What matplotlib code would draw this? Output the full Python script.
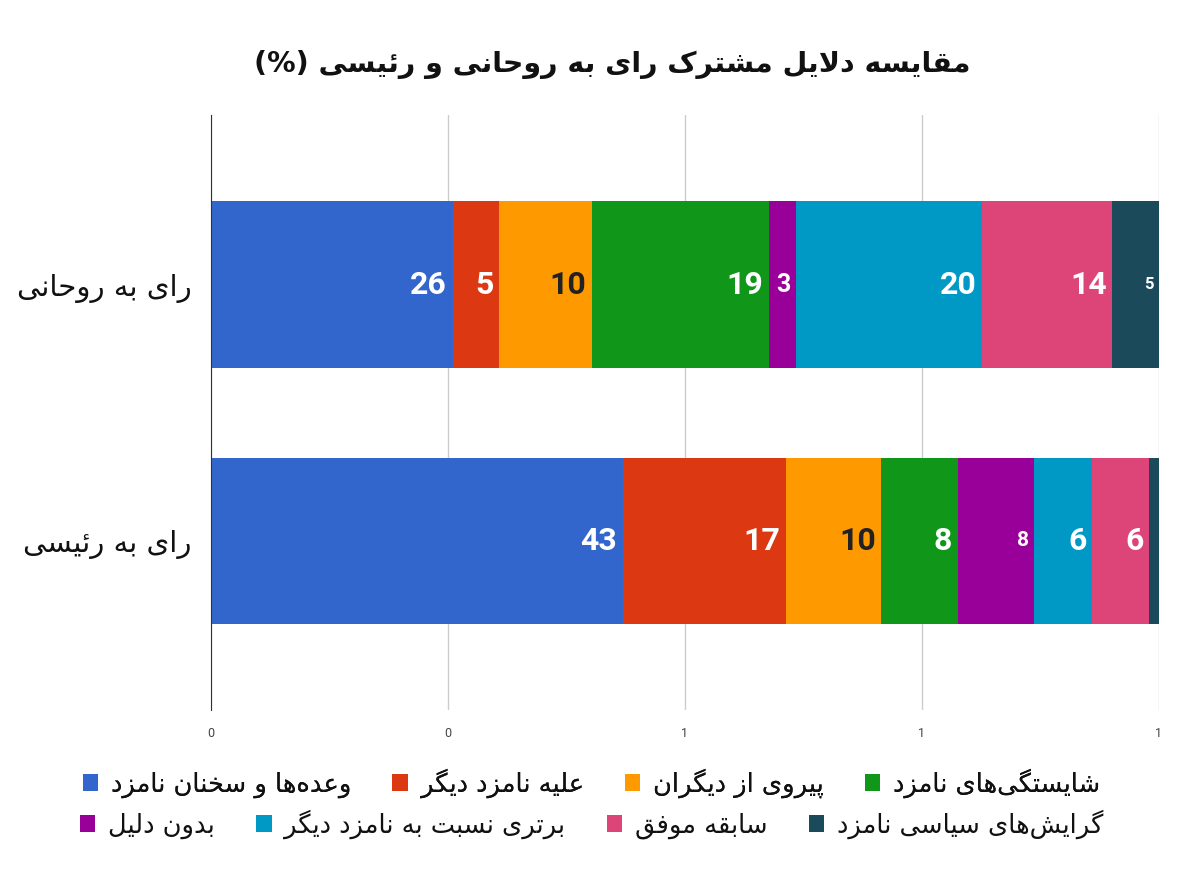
import numpy as np
import matplotlib
matplotlib.use("Agg")
import matplotlib.pyplot as plt
from matplotlib.patches import Patch

# donnees
categories = ['رای به روحانی', 'رای به رئیسی']
motifs = ['وعده‌ها و سخنان نامزد', 'علیه نامزد دیگر', 'پیروی از دیگران',
          'شایستگی‌های نامزد', 'بدون دلیل', 'برتری نسبت به نامزد دیگر',
          'سابقه موفق', 'گرایش‌های سیاسی نامزد']
rohani = [26, 5, 10, 19, 3, 20, 14, 5]
raisi = [43, 17, 10, 8, 8, 6, 6, 1]
titre = 'مقایسه دلایل مشترک رای به روحانی و رئیسی (%)'

couleurs = ['#3366cc', '#dc3912', '#ff9900', '#109618', '#990099',
            '#0099c6', '#dd4477', '#1b4b5b']

# formes de presentation arabes (isolee, finale, initiale, mediane)
DOUBLE = {'ب': 0xFE8F, 'ت': 0xFE95, 'ث': 0xFE99, 'ج': 0xFE9D, 'ح': 0xFEA1,
          'خ': 0xFEA5, 'س': 0xFEB1, 'ش': 0xFEB5, 'ص': 0xFEB9, 'ض': 0xFEBD,
          'ط': 0xFEC1, 'ظ': 0xFEC5, 'ع': 0xFEC9, 'غ': 0xFECD, 'ف': 0xFED1,
          'ق': 0xFED5, 'ل': 0xFEDD, 'م': 0xFEE1, 'ن': 0xFEE5, 'ه': 0xFEE9,
          'ئ': 0xFE89, 'پ': 0xFB56, 'چ': 0xFB7A, 'ک': 0xFB8E, 'گ': 0xFB92,
          'ی': 0xFBFC}
DROITE = {'ا': 0xFE8D, 'آ': 0xFE81, 'د': 0xFEA9, 'ذ': 0xFEAB, 'ر': 0xFEAD,
          'ز': 0xFEAF, 'ژ': 0xFB8A, 'و': 0xFEED, 'ؤ': 0xFE85}


def persan(txt):
    """mise en forme + ordre visuel (pas de bidi complet, suffit ici)"""
    n = len(txt)
    res = []
    i = 0
    while i < n:
        c = txt[i]
        if c not in DOUBLE and c not in DROITE:
            if c != '\u200c':
                res.append(c)
            i += 1
            continue
        prev = i > 0 and txt[i - 1] in DOUBLE
        if c == 'ل' and i + 1 < n and txt[i + 1] == 'ا':
            res.append(chr(0xFEFC if prev else 0xFEFB))
            i += 2
            continue
        suiv = c in DOUBLE and i + 1 < n and (txt[i + 1] in DOUBLE or txt[i + 1] in DROITE)
        if c in DOUBLE:
            b = DOUBLE[c]
            g = b + 3 if (prev and suiv) else b + 1 if prev else b + 2 if suiv else b
        else:
            b = DROITE[c]
            g = b + 1 if prev else b
        res.append(chr(g))
        i += 1
    vis = ''.join(reversed(res))
    return vis.translate(str.maketrans('()', ')('))


plt.rcParams['font.family'] = ['DejaVu Sans']

valeurs = np.array([rohani, raisi], dtype=float)
parts = valeurs / valeurs.sum(axis=1, keepdims=True) * 100

fig = plt.figure(figsize=(12, 8.74), dpi=100)
ax = fig.add_axes([0.1758, 0.1876, 0.79, 0.6804])

y = np.arange(len(categories))
gauche = np.zeros(len(categories))
# tailles de police des petites etiquettes
petits = {(0, 4): 18, (0, 7): 12, (1, 4): 15}
for k in range(len(motifs)):
    ax.barh(y, parts[:, k], left=gauche, height=0.65, color=couleurs[k],
            edgecolor='none', zorder=3)
    for j in range(len(categories)):
        if parts[j, k] < 2:
            continue
        coul = '#222222' if couleurs[k] == '#ff9900' else 'white'
        ax.annotate(str(int(valeurs[j, k])), (gauche[j] + parts[j, k], y[j]),
                    xytext=(-4, 0), textcoords='offset points',
                    ha='right', va='center', color=coul,
                    fontsize=petits.get((j, k), 23), fontweight='bold',
                    family='Roboto', zorder=4)
    gauche += parts[:, k]

ax.set_xlim(0, 100)
ax.set_ylim(1.66, -0.66)
ticks = [0, 25, 50, 75, 100]
ax.set_xticks(ticks)
ax.set_xticklabels([str(int(t / 100 + 0.5)) for t in ticks], color='#444444',
                   fontsize=9, family='Roboto')
ax.set_yticks(y)
ax.set_yticklabels([persan(c) for c in categories], fontsize=21, color='#111111')
ax.tick_params(axis='x', length=0, pad=12)
ax.tick_params(axis='y', length=0, pad=14)
ax.grid(axis='x', color='#cccccc', lw=1, zorder=0)
for s in ['top', 'right', 'bottom']:
    ax.spines[s].set_visible(False)
ax.spines['left'].set_color('#333333')
ax.spines['left'].set_zorder(5)

fig.text(0.51, 0.926, persan(titre), ha='center', va='center',
         fontsize=20.5, fontweight='bold', color='#111111')

poignees = [Patch(facecolor=c, edgecolor='none') for c in couleurs]
etiq = [persan(m) for m in motifs]
opts = dict(frameon=False, ncol=4, fontsize=18.5, handlelength=0.6,
            handleheight=0.6, handletextpad=0.5, columnspacing=1.6,
            loc='center', labelcolor='#111111')
leg1 = fig.legend(poignees[:4], etiq[:4], bbox_to_anchor=(0.493, 0.104), **opts)
fig.add_artist(leg1)
fig.legend(poignees[4:], etiq[4:], bbox_to_anchor=(0.493, 0.057), **opts)

fig.savefig('out.png', dpi=100, facecolor='white')
